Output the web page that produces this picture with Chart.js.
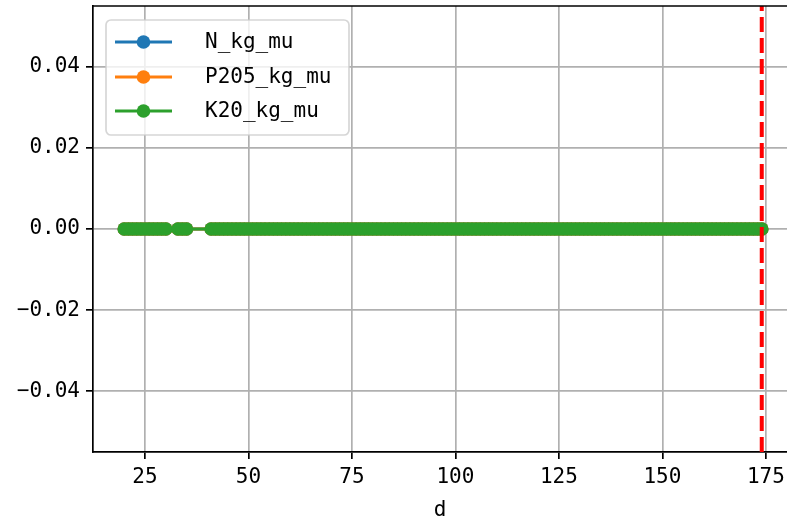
<!DOCTYPE html>
<html>
<head>
<meta charset="utf-8">
<script src="https://cdn.jsdelivr.net/npm/chart.js@4"></script>
<style>
  html, body { margin: 0; padding: 0; background: #fff; overflow: hidden; }
  canvas { display: block; }
</style>
</head>
<body>
<canvas id="soilChart" width="787" height="523"></canvas>
<script>
const days = [
  20, 21, 22, 23, 24, 25, 26, 27, 28, 29, 30,
  33, 34, 35,
  41, 42, 43, 44, 45, 46, 47, 48, 49, 50, 51, 52, 53, 54, 55, 56, 57, 58, 59, 60,
  61, 62, 63, 64, 65, 66, 67, 68, 69, 70, 71, 72, 73, 74, 75, 76, 77, 78, 79, 80,
  81, 82, 83, 84, 85, 86, 87, 88, 89, 90, 91, 92, 93, 94, 95, 96, 97, 98, 99, 100,
  101, 102, 103, 104, 105, 106, 107, 108, 109, 110, 111, 112, 113, 114, 115, 116, 117, 118, 119, 120,
  121, 122, 123, 124, 125, 126, 127, 128, 129, 130, 131, 132, 133, 134, 135, 136, 137, 138, 139, 140,
  141, 142, 143, 144, 145, 146, 147, 148, 149, 150, 151, 152, 153, 154, 155, 156, 157, 158, 159, 160,
  161, 162, 163, 164, 165, 166, 167, 168, 169, 170, 171, 172, 173, 174
];
const nKgMu = [
  0, 0, 0, 0, 0, 0, 0, 0, 0, 0, 0, 0, 0, 0, 0, 0, 0, 0, 0, 0,
  0, 0, 0, 0, 0, 0, 0, 0, 0, 0, 0, 0, 0, 0, 0, 0, 0, 0, 0, 0,
  0, 0, 0, 0, 0, 0, 0, 0, 0, 0, 0, 0, 0, 0, 0, 0, 0, 0, 0, 0,
  0, 0, 0, 0, 0, 0, 0, 0, 0, 0, 0, 0, 0, 0, 0, 0, 0, 0, 0, 0,
  0, 0, 0, 0, 0, 0, 0, 0, 0, 0, 0, 0, 0, 0, 0, 0, 0, 0, 0, 0,
  0, 0, 0, 0, 0, 0, 0, 0, 0, 0, 0, 0, 0, 0, 0, 0, 0, 0, 0, 0,
  0, 0, 0, 0, 0, 0, 0, 0, 0, 0, 0, 0, 0, 0, 0, 0, 0, 0, 0, 0,
  0, 0, 0, 0, 0, 0, 0, 0
];
const p2o5KgMu = [
  0, 0, 0, 0, 0, 0, 0, 0, 0, 0, 0, 0, 0, 0, 0, 0, 0, 0, 0, 0,
  0, 0, 0, 0, 0, 0, 0, 0, 0, 0, 0, 0, 0, 0, 0, 0, 0, 0, 0, 0,
  0, 0, 0, 0, 0, 0, 0, 0, 0, 0, 0, 0, 0, 0, 0, 0, 0, 0, 0, 0,
  0, 0, 0, 0, 0, 0, 0, 0, 0, 0, 0, 0, 0, 0, 0, 0, 0, 0, 0, 0,
  0, 0, 0, 0, 0, 0, 0, 0, 0, 0, 0, 0, 0, 0, 0, 0, 0, 0, 0, 0,
  0, 0, 0, 0, 0, 0, 0, 0, 0, 0, 0, 0, 0, 0, 0, 0, 0, 0, 0, 0,
  0, 0, 0, 0, 0, 0, 0, 0, 0, 0, 0, 0, 0, 0, 0, 0, 0, 0, 0, 0,
  0, 0, 0, 0, 0, 0, 0, 0
];
const k2oKgMu = [
  0, 0, 0, 0, 0, 0, 0, 0, 0, 0, 0, 0, 0, 0, 0, 0, 0, 0, 0, 0,
  0, 0, 0, 0, 0, 0, 0, 0, 0, 0, 0, 0, 0, 0, 0, 0, 0, 0, 0, 0,
  0, 0, 0, 0, 0, 0, 0, 0, 0, 0, 0, 0, 0, 0, 0, 0, 0, 0, 0, 0,
  0, 0, 0, 0, 0, 0, 0, 0, 0, 0, 0, 0, 0, 0, 0, 0, 0, 0, 0, 0,
  0, 0, 0, 0, 0, 0, 0, 0, 0, 0, 0, 0, 0, 0, 0, 0, 0, 0, 0, 0,
  0, 0, 0, 0, 0, 0, 0, 0, 0, 0, 0, 0, 0, 0, 0, 0, 0, 0, 0, 0,
  0, 0, 0, 0, 0, 0, 0, 0, 0, 0, 0, 0, 0, 0, 0, 0, 0, 0, 0, 0,
  0, 0, 0, 0, 0, 0, 0, 0
];
const seriesLabels = ["N_kg_mu", "P205_kg_mu", "K20_kg_mu"];
const cutoffDay = 174;
const xTicks = [25, 50, 75, 100, 125, 150, 175];
const yTicks = [-0.04, -0.02, 0.00, 0.02, 0.04];
const xRange = [12.44, 180.1];
const yRange = [-0.055, 0.055];

const FONT = "'DejaVu Sans Mono', 'Liberation Mono', monospace";
const colors = ["#1f77b4", "#ff7f0e", "#2ca02c"];

function pts(vals) {
  return days.map((d, i) => ({ x: d, y: vals[i] }));
}

function lineSet(label, vals, color, order) {
  return {
    label: label,
    data: pts(vals),
    borderColor: color,
    backgroundColor: color,
    borderWidth: 3,
    pointRadius: 6.8,
    pointHoverRadius: 6.8,
    pointBorderWidth: 0,
    pointBackgroundColor: color,
    order: order,
  };
}

// top spine + matplotlib-like legend inside the axes
const frameAndLegend = {
  id: "frameAndLegend",
  afterDraw(chart) {
    const ctx = chart.ctx;
    const a = chart.chartArea;
    ctx.save();
    ctx.strokeStyle = "#000";
    ctx.lineWidth = 1.7;
    ctx.beginPath();
    ctx.moveTo(a.left, a.top);
    ctx.lineTo(a.right, a.top);
    ctx.stroke();

    // legend box
    const bx = 106, by = 20, bw = 243, bh = 115, r = 5;
    ctx.beginPath();
    ctx.moveTo(bx + r, by);
    ctx.arcTo(bx + bw, by, bx + bw, by + bh, r);
    ctx.arcTo(bx + bw, by + bh, bx, by + bh, r);
    ctx.arcTo(bx, by + bh, bx, by, r);
    ctx.arcTo(bx, by, bx + bw, by, r);
    ctx.closePath();
    ctx.fillStyle = "rgba(255,255,255,0.8)";
    ctx.fill();
    ctx.strokeStyle = "rgba(204,204,204,0.8)";
    ctx.lineWidth = 1.7;
    ctx.stroke();

    const rows = [42, 77, 111];
    seriesLabels.forEach((lab, i) => {
      const y = rows[i];
      ctx.strokeStyle = colors[i];
      ctx.lineWidth = 3;
      ctx.beginPath();
      ctx.moveTo(115, y);
      ctx.lineTo(172, y);
      ctx.stroke();
      ctx.fillStyle = colors[i];
      ctx.beginPath();
      ctx.arc(143.5, y, 6.8, 0, Math.PI * 2);
      ctx.fill();
      ctx.fillStyle = "#000";
      ctx.font = "21px " + FONT;
      ctx.textBaseline = "middle";
      ctx.textAlign = "left";
      ctx.fillText(lab, 205, y + 1);
    });
    ctx.restore();
  },
};

const ctx = document.getElementById("soilChart").getContext("2d");
const soilChart = new Chart(ctx, {
  type: "line",
  data: {
    datasets: [
      lineSet(seriesLabels[0], nKgMu, colors[0], 3),
      lineSet(seriesLabels[1], p2o5KgMu, colors[1], 2),
      lineSet(seriesLabels[2], k2oKgMu, colors[2], 1),
      {
        label: "cutoff",
        data: [{ x: cutoffDay, y: yRange[0] }, { x: cutoffDay, y: yRange[1] }],
        borderColor: "#ff0000",
        borderWidth: 4,
        borderDash: [15, 6],
        pointRadius: 0,
        order: 0,
      },
    ],
  },
  options: {
    responsive: false,
    animation: false,
    devicePixelRatio: 1,
    layout: { autoPadding: false, padding: { left: 0, top: 6, right: 0, bottom: 0 } },
    plugins: {
      legend: { display: false },
      tooltip: { enabled: false },
    },
    scales: {
      x: {
        type: "linear",
        min: xRange[0],
        max: xRange[1],
        afterBuildTicks: (s) => { s.ticks = xTicks.map((v) => ({ value: v })); },
        afterFit: (s) => { s.height = 71; s.paddingLeft = 0; s.paddingRight = 0; },
        grid: { color: "#b0b0b0", lineWidth: 1.7, tickColor: "#000", tickLength: 7, tickWidth: 1.7 },
        border: { color: "#000", width: 1.7 },
        ticks: { color: "#000", font: { family: FONT, size: 21 }, padding: 6, maxRotation: 0 },
        title: { display: true, text: "d", color: "#000", font: { family: FONT, size: 21 }, padding: { top: 2, bottom: 0 } },
      },
      y: {
        min: yRange[0],
        max: yRange[1],
        afterBuildTicks: (s) => { s.ticks = yTicks.map((v) => ({ value: v })); },
        afterFit: (s) => { s.width = 93; s.paddingTop = 0; s.paddingBottom = 0; },
        grid: { color: "#b0b0b0", lineWidth: 1.7, tickColor: "#000", tickLength: 7, tickWidth: 1.7 },
        border: { color: "#000", width: 1.7 },
        ticks: {
          color: "#000",
          font: { family: FONT, size: 21 },
          padding: 6,
          callback: (v) => (v < 0 ? "\u2212" + Math.abs(v).toFixed(2) : v.toFixed(2)),
        },
      },
    },
  },
  plugins: [frameAndLegend],
});
</script>
</body>
</html>
